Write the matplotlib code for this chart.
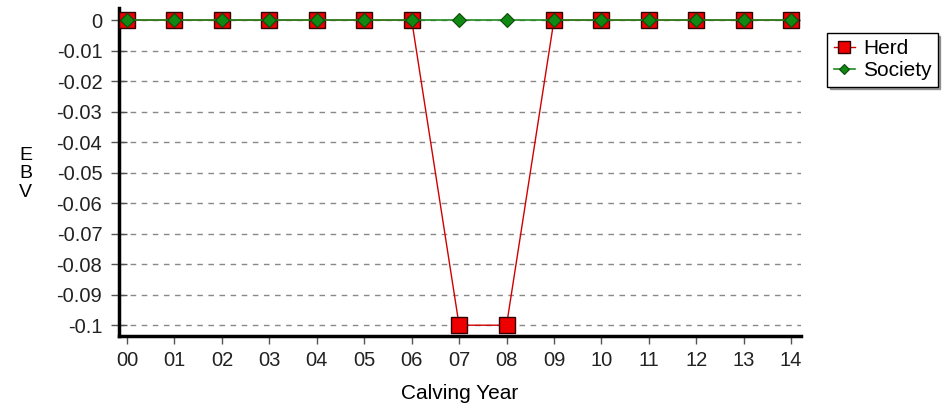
import matplotlib.pyplot as plt

plt.rcParams['font.family'] = ['Liberation Sans', 'DejaVu Sans']

# данные
years = ['00', '01', '02', '03', '04', '05', '06', '07', '08', '09', '10', '11', '12', '13', '14']
herd = [0, 0, 0, 0, 0, 0, 0, -0.1, -0.1, 0, 0, 0, 0, 0, 0]
society = [0, 0, 0, 0, 0, 0, 0, 0, 0, 0, 0, 0, 0, 0, 0]
yticks = [0, -0.01, -0.02, -0.03, -0.04, -0.05, -0.06, -0.07, -0.08, -0.09, -0.1]
ytick_labels = ['0', '-0.01', '-0.02', '-0.03', '-0.04', '-0.05', '-0.06', '-0.07', '-0.08', '-0.09', '-0.1']

fig = plt.figure(figsize=(9.52, 4.11), dpi=100)
ax = fig.add_axes([0.125, 0.182, 0.716, 0.798])

x = list(range(len(years)))
ax.plot(x, herd, color='#d00000', lw=1, marker='s', markersize=12,
        markerfacecolor='#ee0000', markeredgecolor='#300000', markeredgewidth=1, label='Herd', zorder=3)
ax.plot(x, society, color='#1f8a1f', lw=1.2, marker='D', markersize=7,
        markerfacecolor='#118811', markeredgecolor='#0a4a0a', markeredgewidth=0.8, label='Society', zorder=4)

ax.set_xlim(-0.17, 14.2)
ax.set_ylim(-0.1036, 0.0039)
ax.set_xticks(x)
ax.set_xticklabels(years)
ax.set_yticks(yticks)
ax.set_yticklabels(ytick_labels)
ax.tick_params(axis='y', direction='inout', length=12, width=1, colors='#555555', labelcolor='#222222', labelsize=14.5, pad=6)
ax.tick_params(axis='x', direction='out', length=6, width=1, colors='#555555', labelcolor='#222222', labelsize=14.5, pad=5)

ax.grid(axis='y', linestyle=(0, (4, 4)), color='#888888', lw=1)
ax.set_axisbelow(True)
for s in ['top', 'right']:
    ax.spines[s].set_visible(False)
for s in ['left', 'bottom']:
    ax.spines[s].set_linewidth(2.5)
    ax.spines[s].set_color('black')

ax.set_xlabel('Calving Year', fontsize=15, labelpad=10)
fig.text(0.027, 0.577, 'E\nB\nV', fontsize=14, ha='center', va='center', linespacing=1.1)

leg = fig.legend(loc='upper right', bbox_to_anchor=(0.985, 0.92), fontsize=15,
                 frameon=True, fancybox=False, shadow=True, edgecolor='black',
                 handlelength=1.0, handletextpad=0.4, borderpad=0.3, labelspacing=0.15,
                 borderaxespad=0, markerscale=0.7)
leg.get_frame().set_linewidth(1)

plt.savefig('out.png', dpi=100)
